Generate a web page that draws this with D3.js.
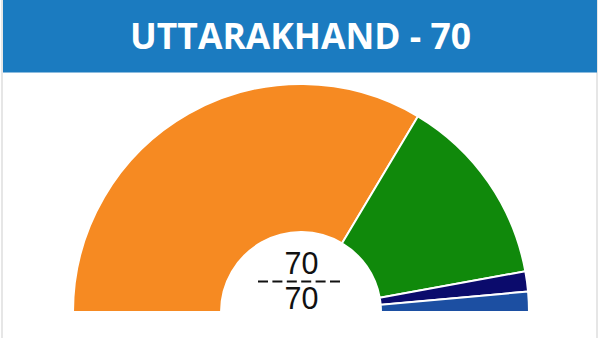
<!DOCTYPE html>
<html>
<head>
<meta charset="utf-8">
<script src="https://cdn.jsdelivr.net/npm/d3@7"></script>
<style>
  body { margin: 0; background: #fff; }
  svg { display: block; }
</style>
</head>
<body>
<svg id="chart" width="600" height="338"></svg>
<script>
const title = "UTTARAKHAND - 70";
const parties = ["BJP", "INC", "BSP", "Others"];
const seats = [47, 19, 2, 2];
const colors = ["#f68a22", "#10890b", "#0b0b6c", "#1c4fa2"];
const declared = 70;
const total = 70;

const W = 600, H = 338;
const svg = d3.select("#chart");

// panel frame
svg.append("rect")
    .attr("x", 2).attr("y", -2)
    .attr("width", 595).attr("height", H + 4)
    .attr("fill", "none")
    .attr("stroke", "#d6d6d6")
    .attr("stroke-width", 1.2);

// header band
svg.append("rect")
    .attr("x", 3).attr("y", 0)
    .attr("width", 594).attr("height", 72.5)
    .attr("fill", "#1b7bc0");

svg.append("text")
    .attr("x", 300.5).attr("y", 49)
    .attr("text-anchor", "middle")
    .attr("font-family", "'Open Sans', sans-serif")
    .attr("font-weight", "bold")
    .attr("font-size", 35)
    .attr("textLength", 341)
    .attr("lengthAdjust", "spacingAndGlyphs")
    .attr("fill", "#fff")
    .text(title);

// half donut
const cx = 301, cy = 312;
const g = svg.append("g").attr("transform", `translate(${cx},${cy})`);

const pie = d3.pie()
    .sort(null)
    .startAngle(-Math.PI / 2)
    .endAngle(Math.PI / 2);

const arc = d3.arc()
    .innerRadius(80)
    .outerRadius(228);

g.selectAll("path")
    .data(pie(seats))
    .join("path")
    .attr("d", arc)
    .attr("fill", (d, i) => colors[i])
    .attr("stroke", "#fff")
    .attr("stroke-width", 2);

// counter in the middle: declared over total, split by a dashed rule
const center = svg.append("g")
    .attr("font-family", "'Liberation Sans', Arial, sans-serif")
    .attr("fill", "#111")
    .attr("text-anchor", "middle");

center.append("text")
    .attr("x", 301.5).attr("y", 273.5)
    .attr("font-size", 30.5)
    .text(declared);

svg.append("line")
    .attr("x1", 258).attr("x2", 344)
    .attr("y1", 281.5).attr("y2", 281.5)
    .attr("stroke", "#111")
    .attr("stroke-width", 2)
    .attr("stroke-dasharray", "10,4.4");

center.append("text")
    .attr("x", 301.5).attr("y", 308.5)
    .attr("font-size", 30.5)
    .text(total);
</script>
</body>
</html>
